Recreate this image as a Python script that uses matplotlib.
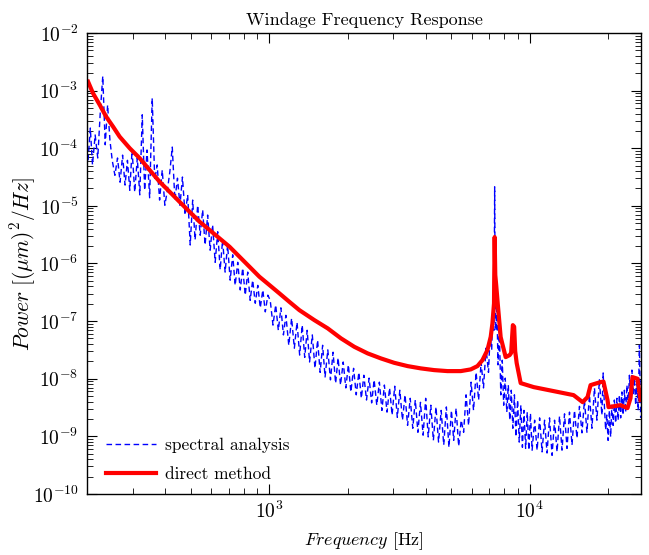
import numpy as np
import matplotlib
matplotlib.use("Agg")
from matplotlib import pyplot as plt
from matplotlib.ticker import FixedLocator, LogLocator, NullFormatter, LogFormatterMathtext

plt.rcParams['font.family'] = 'serif'
plt.rcParams['font.serif'] = ['cmr10', 'DejaVu Serif']
plt.rcParams['mathtext.fontset'] = 'cm'
plt.rcParams['axes.formatter.use_mathtext'] = True

# direct method (smooth red curve), frequency in Hz, power in (um)^2/Hz
red_freq = [202, 211, 224, 237, 252, 267, 292, 319, 348, 380, 415, 453, 495, 541,
            591, 645, 705, 770, 841, 918, 1003, 1095, 1196, 1306, 1491, 1679, 1888,
            2123, 2389, 2686, 3020, 3400, 3824, 4299, 4838, 5440, 5941, 6304, 6589,
            6885, 7089, 7196, 7298, 7310, 7340, 7380, 7440, 7540, 7740, 8090, 8380,
            8490, 8620, 8720, 8800, 8916, 9237, 10360, 12360, 14740, 15970, 16680,
            17130, 18710, 19200, 19900, 20080, 22320, 23740, 24380, 24810, 25930,
            26630]
red_power = [1.427e-3, 8.98e-4, 5.62e-4, 3.52e-4, 2.36e-4, 1.584e-4, 9.96e-5, 6.68e-5,
             4.18e-5, 2.62e-5, 1.757e-5, 1.178e-5, 7.90e-6, 5.30e-6, 3.80e-6, 2.73e-6,
             1.950e-6, 1.307e-6, 8.76e-7, 5.88e-7, 4.22e-7, 3.03e-7, 2.16e-7, 1.552e-7,
             1.041e-7, 7.47e-8, 5.01e-8, 3.58e-8, 2.75e-8, 2.25e-8, 1.888e-8, 1.655e-8,
             1.51e-8, 1.41e-8, 1.355e-8, 1.355e-8, 1.45e-8, 1.655e-8, 2.10e-8, 3.14e-8,
             5.34e-8, 9.12e-8, 2.03e-7, 5.15e-7, 2.87e-6, 6.3e-7, 4.21e-7, 2.05e-7,
             5.27e-8, 2.37e-8, 2.57e-8, 2.8e-8, 8.5e-8, 8.0e-8, 3.0e-8, 1.87e-8,
             8.39e-9, 7.15e-9, 6.09e-9, 5.19e-9, 3.92e-9, 4.8e-9, 7.74e-9, 8.73e-9,
             8.9e-9, 4.25e-9, 3.21e-9, 3.48e-9, 3.09e-9, 4.6e-9, 1.066e-8, 1.0e-8,
             4.25e-9]

# spectral analysis (noisy blue curve), frequency in Hz, log10 of power
blue_freq = [202, 206, 210, 215, 220, 225, 230, 235, 240, 245, 250, 256, 262, 268,
             274, 280, 286, 292, 298, 305, 312, 319, 326, 333, 340, 348, 356, 364,
             372, 380, 389, 398,
             407, 416, 425, 435, 445, 455, 465, 476, 487, 498, 509, 520, 532, 544,
             556, 568, 581, 594, 607, 621, 635, 649, 663, 678, 693, 709, 725, 741,
             758, 775, 792, 810, 828, 846, 865, 885, 905, 925, 946, 967, 989,
             1010, 1035, 1060, 1085, 1110, 1135, 1160, 1190, 1220, 1250, 1280, 1310,
             1340, 1370, 1400, 1430, 1465, 1500, 1535, 1570, 1605, 1640, 1680, 1720,
             1760, 1800, 1840, 1880, 1925, 1970, 2015, 2060, 2110, 2160, 2210, 2260,
             2310, 2365, 2420, 2475, 2530, 2590, 2650, 2710, 2770, 2835, 2900, 2965,
             3035, 3105, 3175, 3250, 3325, 3400, 3480, 3560, 3640, 3725, 3810, 3900,
             3990, 4080, 4175, 4270, 4370, 4470, 4575, 4680, 4790, 4900, 5010,
             5110, 5220, 5340, 5460, 5580, 5700, 5830, 5960, 6090, 6230, 6370, 6510,
             6650, 6800, 6950, 7050, 7150, 7230, 7290, 7310, 7340, 7370, 7420, 7480,
             7560, 7650, 7750, 7850, 7950, 8060, 8170, 8280, 8390, 8500, 8620, 8740,
             8860, 8990, 9120, 9250, 9380, 9510, 9650, 9790, 9930, 10070, 10220,
             10450, 10680, 10920, 11160, 11410, 11660, 11920, 12190, 12460, 12740,
             13020, 13310, 13610, 13910, 14220, 14540, 14860, 15190, 15530, 15880,
             16230, 16590, 16960, 17340, 17730, 18120, 18520, 18930, 19150, 19350,
             19570, 19780, 20000, 20230, 20450, 20680, 20910, 21140, 21380, 21620,
             21860, 22100, 22350, 22600, 22850, 23100, 23360, 23620, 23880, 24150,
             24420, 24690, 24960, 25240, 25520, 25800, 26090, 26380, 26670]
blue_log = [-4.21, -3.65, -4.29, -3.77, -4.17, -3.37, -2.75, -3.94, -3.25, -3.86,
            -4.21, -4.47, -4.17, -4.59, -4.12, -4.64, -4.21, -4.73, -4.03, -4.76,
            -4.17, -4.81, -3.42, -4.73, -4.03, -4.86, -3.13, -4.55, -4.29, -4.90,
            -4.38, -4.99,
            -4.73, -4.41, -3.98, -4.90, -4.52, -4.99, -4.50, -5.16, -4.81, -5.68,
            -4.90, -5.59, -4.99, -5.51, -5.07, -5.68, -5.16, -5.77, -5.33, -5.98,
            -5.45, -6.11, -5.59, -6.15, -5.68, -6.29, -5.85, -6.38, -5.98, -6.46,
            -6.08, -6.55, -6.15, -6.64, -6.29, -6.69, -6.38, -6.77, -6.46, -6.84,
            -6.55,
            -6.64, -7.07, -6.72, -7.16, -6.77, -7.24, -6.90, -7.42, -6.95, -7.47,
            -7.02, -7.59, -7.07, -7.63, -7.16, -7.71, -7.24, -7.82, -7.33, -7.89,
            -7.42, -7.97, -7.50, -8.02, -7.54, -8.08, -7.64, -8.11, -7.71, -8.16,
            -7.76, -8.23, -7.82, -8.28, -7.89, -8.34, -7.94, -8.37, -7.99, -8.42,
            -8.02, -8.46, -8.06, -8.55, -8.11, -8.58, -8.16, -8.63, -8.13, -8.67,
            -8.20, -8.72, -8.28, -8.81, -8.34, -8.86, -8.37, -8.93, -8.41, -8.98,
            -8.34, -9.01, -8.46, -9.07, -8.49, -9.10, -8.55, -9.15, -8.49, -9.19,
            -8.55,
            -9.07, -8.51, -9.17, -8.72, -8.93, -8.28, -8.81, -8.06, -8.55, -7.89,
            -8.37, -7.71, -8.16, -7.47, -7.89, -7.24, -7.50, -6.69, -7.16, -6.29,
            -4.67, -6.46, -7.16, -6.64, -7.76, -7.16, -8.28, -7.68, -8.46, -7.99,
            -8.58, -8.11, -8.72, -8.20, -8.86, -8.28, -9.01, -8.37, -9.10, -8.46,
            -9.19, -8.55, -9.21, -8.58, -9.24, -8.60, -9.24,
            -8.72, -9.24, -8.68, -9.27, -8.72, -9.29, -8.68, -9.33, -8.72, -9.27,
            -8.65, -9.24, -8.61, -9.21, -8.58, -9.15, -8.55, -9.03, -8.48, -8.94,
            -8.37, -8.93, -8.28, -8.86, -8.16, -8.72, -8.02, -8.63, -7.90, -8.46,
            -8.89, -8.63, -9.07, -8.55, -9.01, -8.46, -8.81, -8.37, -8.77, -8.34,
            -8.72, -8.28, -8.68, -8.23, -8.63, -8.20, -8.58, -8.11, -8.46, -7.94,
            -8.34, -7.85, -8.28, -7.99, -8.46, -8.02, -8.55, -7.42, -8.68]

x_major = [1e3, 1e4]
y_major = [1e-10, 1e-9, 1e-8, 1e-7, 1e-6, 1e-5, 1e-4, 1e-3, 1e-2]

blue_power = 10.0 ** np.array(blue_log)

fig = plt.figure(figsize=(6.49, 5.55), dpi=100)
ax = fig.add_axes([0.134, 0.110, 0.854, 0.8306])

ax.loglog(blue_freq, blue_power, color='blue', linewidth=1.0, linestyle='--',
          dashes=(4, 2.5), label='spectral analysis')
ax.loglog(red_freq, red_power, color='red', linewidth=3, label='direct method')

ax.set_xlim(200, 26800)
ax.set_ylim(1e-10, 1e-2)

ax.xaxis.set_major_locator(FixedLocator(x_major))
ax.yaxis.set_major_locator(FixedLocator(y_major))
ax.xaxis.set_minor_locator(LogLocator(base=10, subs=np.arange(2, 10), numticks=20))
ax.yaxis.set_minor_locator(LogLocator(base=10, subs=np.arange(2, 10), numticks=20))
ax.xaxis.set_minor_formatter(NullFormatter())
ax.yaxis.set_minor_formatter(NullFormatter())
ax.xaxis.set_major_formatter(LogFormatterMathtext())
ax.yaxis.set_major_formatter(LogFormatterMathtext())

ax.tick_params(which='both', direction='in', top=True, right=True)
ax.tick_params(which='major', length=7, width=0.8, labelsize=14)
ax.tick_params(which='minor', length=4, width=0.6)
ax.tick_params(axis='x', which='major', pad=5)
ax.tick_params(axis='y', which='major', pad=6)
for sp in ax.spines.values():
    sp.set_linewidth(1.0)

ax.set_title('Windage Frequency Response', fontsize=13, pad=6)
ax.set_xlabel(r'$Frequency$ [Hz]', fontsize=13, labelpad=6)
ax.set_ylabel(r'$Power\ [(\mu m)^2/Hz]$', fontsize=15.5, labelpad=-4)

ax.legend(loc='lower left', frameon=False, fontsize=12.5, handlelength=2.9,
          handletextpad=0.5, labelspacing=0.75, borderaxespad=0.3,
          bbox_to_anchor=(0.012, 0.0))

fig.savefig('out.png', dpi=100)
